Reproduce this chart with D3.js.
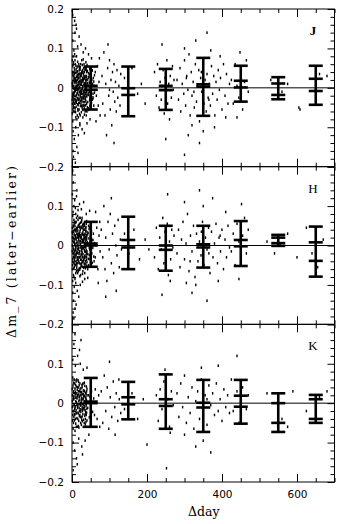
<!DOCTYPE html>
<meta charset="utf-8">
<title>Δm_7 vs Δday</title>
<style>
body { margin: 0; background: #fff; }
svg { display: block; }
.tick text { font-family: "DejaVu Sans", sans-serif; font-size: 10.5px; fill: #000; }
.domain { stroke: none; }
.tick line { stroke: #000; stroke-width: 1; }
.frame { fill: none; stroke: #000; stroke-width: 1; }
.zero { stroke: #000; stroke-width: 1; }
.bar line { stroke: #000; stroke-width: 2.6; }
.pt { fill: #000; }
.band { font-family: "Liberation Serif", serif; font-size: 13px; }
.lab { font-family: "DejaVu Serif", serif; font-size: 12.5px; }
</style>
<svg width="345" height="524"></svg>
<script src="https://d3js.org/d3.v7.min.js"></script>
<script>
// axis ticks / labels
const xMajor = [0, 200, 400, 600];
const yMajor = [-0.2, -0.1, 0, 0.1, 0.2];
const bands = ['J', 'H', 'K'];

// binned error bars: centre day, upper end, lower end, two inner marks (mag)
const binDays = [50, 150, 250, 350, 450, 550, 650];
const jHi = [0.054, 0.054, 0.048, 0.076, 0.056, 0.027, 0.056];
const jLo = [-0.055, -0.072, -0.056, -0.071, -0.035, -0.029, -0.043];
const jIn1 = [0.005, -0.001, 0.005, 0.009, 0.018, 0.011, 0.023];
const jIn2 = [-0.005, -0.018, -0.006, 0.003, 0.001, -0.018, -0.008];
const hHi = [0.060, 0.073, 0.050, 0.050, 0.062, 0.027, 0.048];
const hLo = [-0.054, -0.060, -0.064, -0.056, -0.052, -0.001, -0.079];
const hIn1 = [0.005, 0.014, 0.000, 0.003, 0.014, 0.020, 0.008];
const hIn2 = [0.000, -0.005, -0.011, -0.005, -0.002, 0.006, -0.039];
const kHi = [0.064, 0.054, 0.073, 0.059, 0.059, 0.025, 0.021];
const kLo = [-0.060, -0.041, -0.065, -0.073, -0.052, -0.073, -0.050];
const kIn1 = [0.004, 0.015, 0.010, 0.001, 0.019, 0.000, 0.010];
const kIn2 = [0.000, -0.003, -0.007, -0.011, -0.009, -0.050, -0.040];

// individual pairs: [Δday, Δm in mmag]
const jPts = [[2,10],[3,-25],[4,40],[5,-60],[6,15],[7,-5],[8,70],[9,-35],[10,22],[11,-48],[12,5],[13,-80],[14,33],[15,-12],[16,55],[17,-30],[18,-2],[19,44],[20,-66],[21,18],[22,-20],[23,60],[24,-40],[25,8],[26,-15],[27,38],[28,-55],[29,26],[30,-8],[31,50],[32,-28],[33,12],[34,-45],[35,30],[36,-3],[37,65],[38,-70],[39,20],[40,-18],[41,42],[42,-36],[43,6],[44,-52],[45,28],[46,-10],[47,48],[48,-25],[49,15],[50,-40],[51,35],[52,-6],[53,20],[54,-30],[55,10],[56,-15],[57,25],[58,-45],[59,5],[60,32],
[1,-40],[2,55],[3,18],[4,-12],[5,30],[6,-50],[7,85],[8,-20],[9,3],[10,-75],[11,47],[12,-33],[13,12],[14,-5],[15,66],[16,-58],[17,24],[18,-38],[19,9],[20,36],[21,-90],[22,52],[23,-16],[24,14],[25,-62],[26,41],[27,-27],[28,19],[29,-44],[30,72],[31,-11],[32,29],[33,-68],[34,4],[35,-23],[36,46],[37,-34],[38,27],[39,-7],[40,58],[41,-49],[42,21],[43,-14],[44,37],[45,-56],[46,13],[47,-31],[48,3],[49,-21],[50,26],[52,-38],[54,44],[56,-24],[58,16],[60,-12],
[2,120],[3,-110],[5,95],[6,-130],[8,140],[10,-100],[11,160],[13,-150],[15,105],[17,-120],[19,130],[21,-95],[24,110],[27,-105],[30,90],[33,-115],[36,100],[40,-90],[44,85],[48,-80],[52,75],[2,185],[4,-175],[7,170],[9,-190],[12,150],[16,-165],[1,195],[3,-160],
[1,5],[2,-15],[3,30],[4,-35],[5,-2],[6,25],[7,-28],[8,12],[9,-8],[10,38],[11,-22],[12,18],[13,-3],[14,28],[15,-42],[16,7],[17,35],[18,-18],[19,-30],[20,2],[21,26],[22,-9],[23,-33],[24,20],[25,36],[26,-6],[27,-24],[28,4],[29,16],[30,-36],[31,22],[32,-14],[33,40],[34,-20],[35,8],[36,-28],[37,14],[38,-2],[39,-40],[40,10],
[1,-65],[1,70],[2,-85],[3,80],[4,-50],[4,65],[5,-30],[6,50],[7,-40],[8,-60],[9,60],[10,-30],[11,-5],[12,80],[13,40],[14,-70],[15,20],[16,-30],[17,-75],[18,60],[19,-55],[20,50],[21,0],[22,-70],[23,30],[24,-5],[25,-30],[26,70],[27,-50],[28,45],[29,-75],[30,20],[31,-45],[32,60],[33,-5],[34,25],[35,-60],[36,10],[37,-15],[38,50],[39,40],[40,-60],
[0.5,12],[1.5,-22],[2.5,34],[3.5,-46],[4.5,4],[5.5,22],[6.5,-12],[7.5,44],[8.5,-52],[9.5,16],[10.5,-4],[11.5,28],[12.5,-18],[13.5,52],[14.5,-26],[15.5,6],[16.5,-44],[17.5,14],[18.5,32],[19.5,-10],[20.5,-38],[21.5,46],[22.5,8],[23.5,-24],[24.5,30],[25.5,-46],[26.5,18],[27.5,-2],[28.5,-16],[29.5,40],[30.5,-26],[31.5,6],[32.5,-52],[33.5,24],[34.5,-8],[35.5,50],[36.5,-44],[37.5,2],[38.5,30],[39.5,-22],[41.5,12],[42.5,-6],[43.5,26],[44.5,-18],[46.5,34],[47.5,-46],[49.5,8],[51.5,-14],[53.5,44],[55.5,-28],
[0.5,-30],[1.5,40],[2.5,-55],[3.5,60],[4.5,-18],[5.5,-40],[6.5,36],[7.5,-8],[8.5,24],[9.5,-62],[10.5,56],[11.5,-38],[12.5,2],[13.5,-14],[14.5,42],[15.5,-54],[16.5,26],[17.5,-4],[18.5,-26],[19.5,54],[20.5,16],[21.5,-12],[22.5,-46],[23.5,36],[24.5,-10],[25.5,12],[26.5,-34],[27.5,58],[28.5,24],[29.5,-56],[30.5,34],[31.5,-20],[32.5,10],[33.5,-36],[34.5,46],[35.5,-14],[36.5,20],[37.5,-58],[38.5,-10],[39.5,44],
[62,40],[65,-20],[68,55],[70,-45],[72,15],[75,-70],[64,-85],[73,75],
[80,30],[82,-40],[85,90],[88,-70],[90,10],[92,-120],[95,50],[98,-20],[100,70],[102,-55],[104,20],[106,-95],[108,40],[110,-10],[112,60],[114,-35],[116,15],[118,-60],[120,45],[122,-25],[125,5],[128,-45],[130,35],[96,110],[112,-140],[100,-5],
[140,25],[150,-30],[160,50],[175,-15],[185,10],[195,-40],
[220,40],[225,-20],[228,60],[232,-50],[235,15],[238,-30],[240,5],[243,45],[246,-65],[248,25],[250,-10],[253,70],[255,-40],[258,10],[260,-80],[262,30],[265,-25],[268,55],[270,-5],[272,20],[250,-130],[240,110],[300,-170],
[280,20],[284,-30],[288,50],[290,-60],[294,10],[298,-15],[300,70],[303,-45],[306,30],[309,-5],[312,85],[315,-70],[318,40],[320,-20],[323,15],[326,-50],[329,60],[332,-35],[335,5],[338,45],[340,-85],[343,25],[346,-10],[349,65],[352,-40],[355,20],[358,-60],[360,35],[363,-25],[366,10],[369,-45],[372,55],[375,-15],[378,30],[381,-70],[384,15],[387,-30],[390,45],[393,-5],[396,25],[400,-55],[404,60],[408,-20],[412,35],[416,-40],[420,10],[300,100],[330,120],[350,-110],[370,95],[320,-95],[360,140],[340,-140],[380,-100],[310,-120],[395,80],[410,-75],[305,25],[345,40],[365,-30],[325,-10],
[425,20],[430,-40],[435,60],[440,5],[445,-25],[450,40],[455,-55],[460,15],[465,70],[470,-10],[448,90],[440,-75],
[530,20],[560,-10],[575,10],[605,-50],[608,-55],[660,35],[680,30]];

const hPts = [[1,20],[2,-35],[3,50],[4,-10],[5,65],[6,-55],[7,5],[8,-25],[9,40],[10,-70],[11,15],[12,-45],[13,30],[14,-8],[15,75],[16,-20],[17,48],[18,-62],[19,10],[20,-30],[21,35],[22,-5],[23,58],[24,-48],[25,22],[26,-14],[27,44],[28,-72],[29,12],[30,-38],[31,26],[32,-2],[33,54],[34,-26],[35,16],[36,-58],[37,38],[38,-12],[39,62],[40,-42],[41,8],[42,-22],[43,32],[44,-50],[45,18],[46,-6],[47,46],[48,-34],[49,24],[50,-16],[52,36],[54,-44],[56,14],[58,-28],[60,6],
[1,-60],[2,75],[3,-20],[4,35],[5,-45],[6,10],[7,60],[8,-85],[9,25],[10,-5],[11,-40],[12,70],[13,-15],[14,45],[15,-30],[16,5],[17,-65],[18,30],[19,-22],[20,55],[21,-78],[22,20],[23,-36],[24,8],[25,-52],[26,64],[27,-18],[28,28],[29,-8],[30,48],[31,-56],[32,18],[33,-32],[34,40],[35,-4],[36,22],[37,-46],[38,6],[39,-20],[40,34],[42,-60],[44,50],[46,-24],[48,12],[50,40],[53,-20],[57,30],[59,-40],
[1,130],[2,-120],[3,160],[4,-140],[5,100],[6,-105],[7,115],[8,-160],[9,95],[10,-95],[12,125],[14,-115],[16,90],[18,-130],[20,105],[22,-100],[25,92],[28,-92],[31,110],[34,-85],[38,80],[42,-82],[47,88],[2,190],[5,-185],[3,-170],[11,-150],[13,140],
[1,0],[2,12],[3,-6],[4,18],[5,-18],[6,28],[7,-32],[8,4],[9,-12],[10,22],[11,-24],[12,6],[13,36],[14,-36],[15,0],[16,24],[17,-10],[18,14],[19,-44],[20,30],[21,-14],[22,40],[23,2],[24,-22],[25,-2],[26,16],[27,-40],[28,-4],[29,34],[30,8],[31,14],[32,-30],[33,-12],[34,6],[35,30],[36,-16],[37,4],[38,26],[39,-30],[40,2],
[1,45],[2,-90],[3,85],[4,-75],[5,-80],[6,40],[7,-15],[8,50],[9,-50],[10,80],[11,60],[12,-65],[13,-50],[14,20],[15,-70],[16,65],[17,25],[18,-40],[19,70],[20,-60],[21,-60],[22,70],[23,-75],[24,45],[25,60],[26,-45],[27,70],[28,-30],[29,-65],[30,55],[31,40],[32,-55],[33,20],[34,-70],[35,-30],[36,45],[37,-5],[38,55],[39,15],[40,-15],
[0.5,-14],[1.5,30],[2.5,-42],[3.5,8],[4.5,48],[5.5,-26],[6.5,16],[7.5,-48],[8.5,36],[9.5,-2],[10.5,-30],[11.5,44],[12.5,-56],[13.5,10],[14.5,-18],[15.5,38],[16.5,-36],[17.5,-6],[18.5,52],[19.5,-16],[20.5,24],[21.5,-46],[22.5,12],[23.5,-28],[24.5,48],[25.5,-8],[26.5,30],[27.5,-54],[28.5,14],[29.5,-22],[30.5,40],[31.5,-36],[32.5,28],[33.5,-4],[34.5,-48],[35.5,10],[36.5,36],[37.5,-24],[38.5,16],[39.5,-52],[41.5,28],[43.5,-34],[45.5,42],[47.5,-10],[49.5,20],[51.5,-48],[53.5,14],[55.5,-6],
[0.5,34],[1.5,-50],[2.5,22],[3.5,-30],[4.5,-58],[5.5,54],[6.5,-38],[7.5,26],[8.5,-10],[9.5,58],[10.5,18],[11.5,-20],[12.5,42],[13.5,-62],[14.5,28],[15.5,-44],[16.5,50],[17.5,20],[18.5,-30],[19.5,-58],[20.5,46],[21.5,4],[22.5,-56],[23.5,26],[24.5,-36],[25.5,46],[26.5,-24],[27.5,8],[28.5,52],[29.5,-42],[30.5,-6],[31.5,26],[32.5,-46],[33.5,50],[34.5,-16],[35.5,-40],[36.5,8],[37.5,46],[38.5,-36],[39.5,22],
[62,-30],[66,45],[69,-60],[72,25],[75,-15],[63,85],[70,-95],[74,60],
[78,40],[82,-30],[85,100],[88,-60],[90,20],[93,-90],[96,60],[99,-10],[102,80],[105,-45],[108,30],[111,-70],[114,50],[117,0],[120,-25],[123,65],[126,-55],[129,15],[132,-10],[105,120],[118,-115],[90,-130],
[140,30],[152,-20],[165,40],[180,-35],[195,15],[205,-10],
[220,-30],[225,45],[230,-60],[234,20],[238,-10],[242,70],[245,-45],[248,35],[251,-20],[254,55],[257,-75],[260,10],[263,-35],[266,40],[269,-5],[272,25],[240,-125],[255,130],[262,-90],
[280,-20],[284,40],[288,-55],[292,15],[296,60],[300,-35],[304,5],[308,80],[312,-65],[316,25],[320,-15],[324,50],[328,-80],[332,30],[336,-40],[340,10],[344,-25],[348,60],[352,-50],[356,20],[360,-10],[364,45],[368,-70],[372,35],[376,-30],[380,5],[384,55],[388,-45],[392,20],[396,-15],[400,40],[404,-60],[408,15],[412,-30],[416,50],[420,-5],[300,110],[320,-120],[340,140],[360,-140],[350,100],[330,-100],[390,-90],[410,85],[305,-95],[375,120],[345,35],[315,-40],[365,-20],[395,25],
[425,-15],[430,30],[435,-50],[440,55],[445,10],[450,-30],[455,25],[460,70],[465,-20],[470,40],[452,105],[445,-85],
[520,10],[540,-20],[555,5],[575,30],[600,-30],[625,45],[640,-20],[655,-55],[670,15]];

const kPts = [[1,20],[2,-30],[3,45],[4,-50],[5,10],[6,60],[7,-15],[8,35],[9,-40],[10,5],[11,55],[12,-25],[13,25],[14,-60],[15,40],[16,-5],[17,30],[18,-45],[19,15],[20,-20],[21,50],[22,-35],[23,0],[24,38],[25,-55],[26,22],[27,-10],[28,48],[29,-28],[30,12],[31,-42],[32,32],[33,-8],[34,44],[35,-18],[36,26],[37,-48],[38,8],[39,-24],[40,36],[42,-12],[44,20],[46,-36],[48,16],[50,-6],[52,30],[55,-22],[58,12],[60,-30],
[1,-10],[2,65],[3,-65],[4,15],[5,-35],[6,-5],[7,50],[8,-70],[9,28],[10,-52],[11,-18],[12,42],[13,-38],[14,18],[15,-12],[16,58],[17,-58],[18,6],[19,45],[20,-2],[21,-30],[22,20],[23,-50],[24,-16],[25,28],[26,-42],[27,40],[28,-2],[29,24],[30,-60],[31,18],[32,-16],[33,52],[34,-32],[35,4],[36,-40],[37,14],[38,-6],[39,30],[40,-44],
[2,110],[3,-100],[5,150],[7,-120],[9,95],[12,-140],[15,120],[18,-90],[22,100],[26,-110],[30,85],[35,-95],[40,90],[45,-80],[3,-170],[8,175],[14,-155],[20,135],[28,-130],[24,160],
[1,5],[3,10],[5,-20],[7,25],[9,-8],[11,14],[13,-4],[15,20],[17,-26],[19,-12],[21,8],[23,28],[25,2],[27,-34],[29,10],[31,-4],[33,18],[35,-28],[37,-2],[39,6],[2,-8],[4,30],[6,-28],[8,-12],[10,24],[12,2],[14,34],[16,-24],[18,22],[20,16],[22,-16],[24,-4],[26,8],[28,-20],[30,32],[32,4],[34,-10],[36,12],[38,-30],[40,20],
[0.5,36],[2.5,-20],[4.5,52],[6.5,-44],[8.5,14],[10.5,-26],[12.5,60],[14.5,-8],[16.5,40],[18.5,-62],[20.5,30],[22.5,-6],[24.5,-36],[26.5,46],[28.5,-14],[30.5,22],[32.5,-50],[34.5,18],[36.5,-22],[38.5,42],[1.5,-44],[3.5,26],[5.5,-4],[7.5,-30],[9.5,46],[11.5,-60],[13.5,12],[15.5,-40],[17.5,54],[19.5,-32],[21.5,36],[23.5,-22],[25.5,14],[27.5,-46],[29.5,50],[31.5,-12],[33.5,30],[35.5,-54],[37.5,24],[39.5,-14],
[62,35],[67,-40],[71,20],[74,-60],
[78,30],[82,-50],[86,70],[90,-20],[94,40],[98,-65],[102,15],[106,-35],[110,55],[114,-10],[118,25],[122,-45],[126,10],[130,-25],[100,105],[115,-80],[125,60],
[140,-15],[160,25],[175,-40],[190,10],[200,-105],
[225,20],[230,-45],[235,35],[240,-15],[245,55],[250,-30],[255,10],[260,-60],[265,30],[270,-5],[248,85],[262,-75],[252,-165],
[280,25],[285,-35],[290,50],[295,-10],[300,70],[305,-50],[310,15],[315,-25],[320,40],[325,-65],[330,5],[335,30],[340,-40],[345,60],[350,-15],[355,20],[360,-55],[365,45],[370,-5],[375,25],[380,-30],[385,50],[390,-20],[395,10],[400,-45],[405,35],[410,-10],[415,20],[420,-25],[330,-110],[350,-95],[390,95],[300,-80],[345,90],[370,-125],[360,10],
[425,60],[430,-20],[440,30],[445,-50],[450,15],[455,40],[465,-15],[470,20],[440,120],
[520,25],[560,-40],[575,-60],[589,30],[625,-20],[660,15],[680,30]];

const panels = [
  { band: bands[0], pts: jPts, hi: jHi, lo: jLo, in1: jIn1, in2: jIn2, bold: true },
  { band: bands[1], pts: hPts, hi: hHi, lo: hLo, in1: hIn1, in2: hIn2 },
  { band: bands[2], pts: kPts, hi: kHi, lo: kLo, in1: kIn1, in2: kIn2 }
];

const svg = d3.select("svg");
const padL = 72, padR = 334.5, padT = 9, padB = 482;
const ph = (padB - padT) / 3;
const x = d3.scaleLinear().domain([0, 700]).range([padL, padR]);
const xMinor = d3.range(0, 701, 50).filter(v => !xMajor.includes(v));
const yMinor = d3.range(-10, 11).map(v => v * 0.02).filter(v => Math.abs(v * 10 - Math.round(v * 10)) > 1e-6);
const fmt = d3.format(".1f");

panels.forEach((p, i) => {
  const y0 = padT + ph * i, y1 = y0 + ph;
  const y = d3.scaleLinear().domain([-0.2, 0.2]).range([y1, y0]);
  const g = svg.append("g");

  g.append("g").selectAll("rect").data(p.pts).join("rect")
    .attr("class", "pt")
    .attr("x", d => x(d[0]) - 0.7)
    .attr("y", d => y(d[1] / 1000) - 1.3)
    .attr("width", 1.4)
    .attr("height", 2.6);

  g.append("line").attr("class", "zero")
    .attr("x1", padL).attr("x2", padR)
    .attr("y1", y(0)).attr("y2", y(0));

  const bars = g.selectAll("g.bar").data(binDays).join("g").attr("class", "bar");
  bars.append("line")
    .attr("x1", d => x(d)).attr("x2", d => x(d))
    .attr("y1", (d, j) => y(p.hi[j])).attr("y2", (d, j) => y(p.lo[j]));
  [p.hi, p.lo, p.in1, p.in2].forEach(arr => {
    bars.append("line")
      .attr("x1", d => x(d) - 7).attr("x2", d => x(d) + 7)
      .attr("y1", (d, j) => y(arr[j])).attr("y2", (d, j) => y(arr[j]));
  });

  // axes, ticks pointing inward on all sides
  g.append("g").attr("transform", `translate(${padL},0)`)
    .call(d3.axisLeft(y).tickValues(yMajor).tickSize(-7).tickPadding(8)
      .tickFormat(v => (i > 0 && v > 0.15) ? "" : (v === 0 ? "0" : fmt(v))));
  g.append("g").attr("transform", `translate(${padL},0)`)
    .call(d3.axisLeft(y).tickValues(yMinor).tickSize(-4).tickFormat(""));
  g.append("g").attr("transform", `translate(${padR},0)`)
    .call(d3.axisRight(y).tickValues(yMajor).tickSize(-7).tickFormat(""));
  g.append("g").attr("transform", `translate(${padR},0)`)
    .call(d3.axisRight(y).tickValues(yMinor).tickSize(-4).tickFormat(""));
  g.append("g").attr("transform", `translate(0,${y0})`)
    .call(d3.axisTop(x).tickValues(xMajor).tickSize(-8).tickFormat(""));
  g.append("g").attr("transform", `translate(0,${y0})`)
    .call(d3.axisTop(x).tickValues(xMinor).tickSize(-4).tickFormat(""));
  g.append("g").attr("transform", `translate(0,${y1})`)
    .call(d3.axisBottom(x).tickValues(xMajor).tickSize(-8).tickPadding(9)
      .tickFormat(i === 2 ? d3.format("d") : ""));
  g.append("g").attr("transform", `translate(0,${y1})`)
    .call(d3.axisBottom(x).tickValues(xMinor).tickSize(-4).tickFormat(""));

  g.append("rect").attr("class", "frame")
    .attr("x", padL).attr("y", y0).attr("width", padR - padL).attr("height", ph);

  g.append("text").attr("class", "band")
    .attr("x", 313).attr("y", y0 + 26)
    .attr("text-anchor", "middle")
    .attr("font-weight", p.bold ? "bold" : "normal")
    .text(p.band);
});

svg.append("text").attr("class", "lab")
  .attr("transform", "translate(16,252) rotate(-90)")
  .attr("text-anchor", "middle")
  .attr("textLength", 172)
  .text("Δm_7 (later−earlier)");

svg.append("text").attr("class", "lab")
  .attr("x", (padL + padR) / 2 + 0.5).attr("y", 516)
  .attr("text-anchor", "middle")
  .text("Δday");
</script>
